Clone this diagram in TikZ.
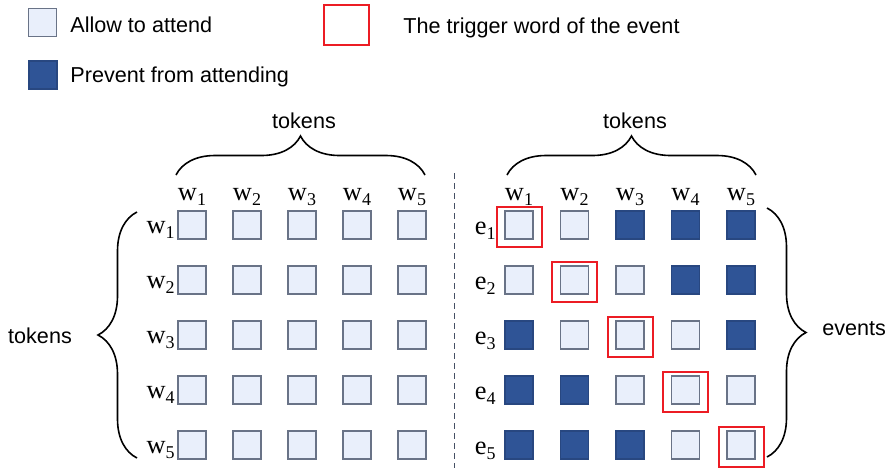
\documentclass[tikz,border=0pt]{standalone}
\usepackage{fontspec}
\setmainfont{Liberation Sans}
\newfontfamily\serifface{Liberation Serif}
\usetikzlibrary{decorations.pathreplacing,positioning}
\definecolor{allowcol}{RGB}{233,239,251}
\definecolor{allowline}{RGB}{105,115,135}
\definecolor{blockcol}{RGB}{47,84,150}
\definecolor{trigcol}{RGB}{236,28,36}
\definecolor{sepcol}{RGB}{70,80,100}
\newcommand{\tok}[2]{#1\raisebox{-2.5pt}{\fontsize{9}{10}\selectfont #2}}

\begin{document}
\begin{tikzpicture}[
  x=0.5pt,y=-0.5pt,
  font=\fontsize{10.8}{13}\selectfont,
  inner sep=0pt,
  sq/.style={draw,minimum size=14pt,line width=0.75pt},
  allowsq/.style={sq,fill=allowcol,draw=allowline},
  blocksq/.style={sq,fill=blockcol,draw=blockcol!85!black},
  trig/.style={draw=trigcol,line width=1pt,minimum width=22.5pt,minimum height=20pt},
  lab/.style={font=\serifface\fontsize{13.2}{15}\selectfont},
  brc/.style={decorate,decoration={brace,amplitude=19.5pt},line width=0.8pt}]

\useasboundingbox (0,0) rectangle (891,468);

% legend
\node[allowsq] (key-allow) at (42.5,22.5) {};
\node[anchor=base west] (key-allow-txt) at (70,32) {Allow to attend};
\node[blocksq] (key-block) at (43,75) {};
\node[anchor=base west] (key-block-txt) at (70,82) {Prevent from attending};
\node[trig,minimum height=20pt] (key-trig) at (346.5,25) {};
\node[anchor=base west] (key-trig-txt) at (403,33) {The trigger word of the event};

% token-token grid
\foreach \i in {1,...,5}{
  \node[lab,anchor=base] (lc-\i) at ({192+55*(\i-1)},200) {\tok{w}{\i}};
  \node[lab,anchor=base east] (lr-\i) at (175,{233+55*(\i-1)}) {\tok{w}{\i}};
  \foreach \j in {1,...,5}
    \node[allowsq] (l-\i-\j) at ({192+55*(\j-1)},{225+55*(\i-1)}) {};
}

% event-token grid
\foreach \i in {1,...,5}{
  \node[lab,anchor=base] (rc-\i) at ({519+55.5*(\i-1)},200) {\tok{w}{\i}};
  \node[lab,anchor=base east] (rr-\i) at (496,{234+55*(\i-1)}) {\tok{e}{\i}};
  \foreach \j in {1,...,5}{
    \pgfmathtruncatemacro\gap{abs(\i-\j)}
    \ifnum\gap>1 \colorlet{cellfill}{blockcol}\colorlet{cellline}{blockcol!85!black}
    \else \colorlet{cellfill}{allowcol}\colorlet{cellline}{allowline}\fi
    \node[sq,fill=cellfill,draw=cellline] (r-\i-\j) at ({519+55.5*(\j-1)},{225+55*(\i-1)}) {};
  }
  \node[trig] (t-\i) at ([yshift=-0.75pt]r-\i-\i) {};
}

% separator
\coordinate (sep-top) at (454,173);
\coordinate (sep-bot) at (454,468);
\draw[sepcol,line width=0.5pt,dash pattern=on 3pt off 2pt] (sep-top) -- (sep-bot);

% braces
\coordinate (tl-a) at (176,175);
\coordinate (tl-b) at (425,175);
\draw[brc] (tl-a) -- (tl-b);
\node[anchor=base] (tl-txt) at (304,128) {tokens};

\coordinate (tr-a) at (507,175);
\coordinate (tr-b) at (756,175);
\draw[brc] (tr-a) -- (tr-b);
\node[anchor=base] (tr-txt) at (635,128) {tokens};

\coordinate (ls-a) at (137,458);
\coordinate (ls-b) at (137,212);
\draw[brc] (ls-a) -- (ls-b);
\node[anchor=base] (ls-txt) at (40,343) {tokens};

\coordinate (rs-a) at (767,208);
\coordinate (rs-b) at (767,457);
\draw[brc] (rs-a) -- (rs-b);
\node[anchor=base west] (rs-txt) at (822,335) {events};
\end{tikzpicture}
\end{document}
